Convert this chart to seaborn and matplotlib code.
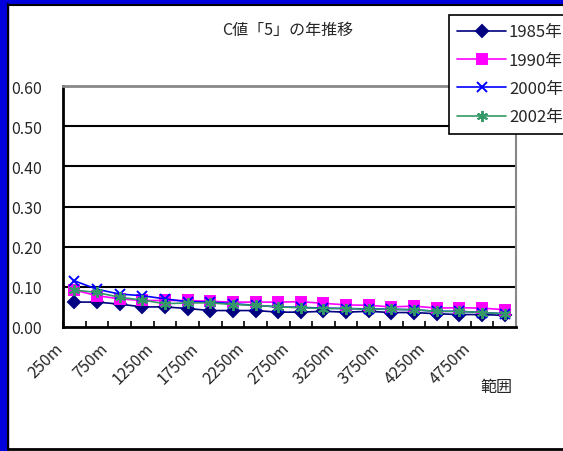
import numpy as np
import pandas as pd
import matplotlib
matplotlib.use("Agg")
import matplotlib.pyplot as plt
import matplotlib.transforms as mtransforms
from matplotlib.patches import Rectangle
from matplotlib.lines import Line2D
import seaborn as sns

# distance bands (250m steps)
distances = [f"{d}m" for d in range(250, 5001, 250)]
years = ["1985年", "1990年", "2000年", "2002年"]

c1985 = [0.062, 0.062, 0.057, 0.050, 0.050, 0.046, 0.041, 0.041, 0.041, 0.037,
         0.037, 0.039, 0.037, 0.039, 0.036, 0.036, 0.033, 0.031, 0.031, 0.029]
c1990 = [0.092, 0.078, 0.070, 0.066, 0.066, 0.066, 0.064, 0.062, 0.062, 0.062,
         0.063, 0.059, 0.055, 0.054, 0.050, 0.052, 0.047, 0.048, 0.047, 0.043]
c2000 = [0.115, 0.094, 0.082, 0.078, 0.070, 0.063, 0.062, 0.058, 0.054, 0.050,
         0.049, 0.047, 0.046, 0.045, 0.044, 0.043, 0.039, 0.039, 0.036, 0.033]
c2002 = [0.092, 0.086, 0.074, 0.067, 0.058, 0.060, 0.060, 0.056, 0.054, 0.050,
         0.048, 0.046, 0.046, 0.044, 0.044, 0.043, 0.039, 0.039, 0.036, 0.033]

series = {"1985年": c1985, "1990年": c1990, "2000年": c2000, "2002年": c2002}
df = pd.DataFrame([
    {"範囲": i, "C値": v, "年": y}
    for y in years for i, v in enumerate(series[y])
])

colors = {"1985年": "#000080", "1990年": "#FF00FF", "2000年": "#0000FF", "2002年": "#339966"}
markers = {"1985年": "D", "1990年": "s", "2000年": "x", "2002年": (6, 2, 0)}
msizes = {"1985年": 6.5, "1990年": 7, "2000年": 7.5, "2002年": 8}
LW = 1.2

sns.set_theme(style="white")
plt.rcParams["font.family"] = ["Noto Sans CJK JP", "DejaVu Sans"]
plt.rcParams["font.size"] = 11.5

fig = plt.figure(figsize=(5.63, 4.52), dpi=100)
fig.patch.set_facecolor("white")

# frame: blue bands on the left and top, thin black edges
fig.add_artist(Rectangle((0, 0), 8 / 563, 1, transform=fig.transFigure, color="#0000DD", zorder=0))
fig.add_artist(Rectangle((0, 1 - 5 / 452), 1, 5 / 452, transform=fig.transFigure, color="#0000DD", zorder=0))
fig.add_artist(Line2D([8 / 563, 8 / 563], [2 / 452, 1 - 5 / 452], transform=fig.transFigure, color="black", lw=1.5))
fig.add_artist(Line2D([8 / 563, 1], [1 - 5.5 / 452, 1 - 5.5 / 452], transform=fig.transFigure, color="black", lw=1.5))
fig.add_artist(Line2D([8 / 563, 1], [2 / 452, 2 / 452], transform=fig.transFigure, color="black", lw=2))

ax = fig.add_axes([63 / 563, 1 - 328 / 452, (516 - 63) / 563, (328 - 87) / 452])

for y in years:
    sub = df[df["年"] == y]
    sns.lineplot(data=sub, x="範囲", y="C値", ax=ax, color=colors[y], lw=LW,
                 marker=markers[y], markersize=msizes[y], markeredgewidth=1.4,
                 markeredgecolor=colors[y], legend=False, zorder=3)

ax.set_xlim(-0.5, len(distances) - 0.5)
ax.set_ylim(0, 0.60)
ax.set_yticks(np.arange(0, 0.61, 0.10))
ax.set_yticklabels([f"{v:.2f}" for v in np.arange(0, 0.61, 0.10)])
ax.set_xticks(range(0, len(distances), 2))
ax.set_xticklabels(distances[::2], rotation=45, ha="right", va="top", rotation_mode="anchor")
ax.set_xticks(np.arange(-0.5, len(distances), 1), minor=True)
ax.tick_params(axis="x", which="major", length=0, pad=9, labelsize=11.5)
ax.tick_params(axis="x", which="minor", direction="in", length=4, width=1.2, color="black", bottom=True)
ax.tick_params(axis="y", length=0, pad=15, labelsize=11.5)
for lab in ax.get_xticklabels():
    lab.set_transform(lab.get_transform() + mtransforms.ScaledTranslation(-20 / 100, 0, fig.dpi_scale_trans))

ax.set_xlabel("")
ax.set_ylabel("")
for yv in np.arange(0.1, 0.51, 0.1):
    ax.axhline(yv, color="black", lw=1.5, zorder=1)
ax.spines["left"].set_color("black")
ax.spines["left"].set_linewidth(2)
ax.spines["bottom"].set_color("black")
ax.spines["bottom"].set_linewidth(2)
ax.spines["top"].set_color("#888888")
ax.spines["top"].set_linewidth(2)
ax.spines["right"].set_color("#888888")
ax.spines["right"].set_linewidth(1.5)

fig.text(288 / 563, 1 - 30 / 452, "C値「5」の年推移", ha="center", va="center", fontsize=11.5)
fig.text(496 / 563, 1 - 388 / 452, "範囲", ha="center", va="center", fontsize=11.5)

handles = [Line2D([], [], color=colors[y], lw=LW, marker=markers[y], markersize=msizes[y],
                  markeredgewidth=1.4, markeredgecolor=colors[y]) for y in years]
leg = fig.legend(handles, years, loc="upper left", bbox_to_anchor=(449 / 563, 1 - 16 / 452),
                 frameon=True, fancybox=False, edgecolor="black", framealpha=1,
                 handlelength=2.9, handletextpad=0.2, labelspacing=0.68, borderpad=0.5,
                 borderaxespad=0, fontsize=12)
leg.get_frame().set_linewidth(1.2)

fig.savefig("out.png", dpi=100)
